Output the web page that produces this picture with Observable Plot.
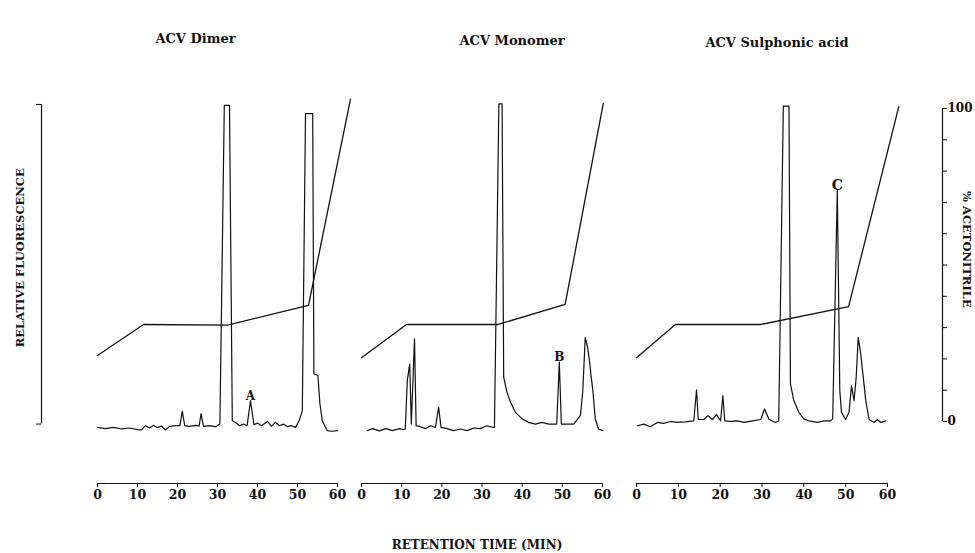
<!DOCTYPE html>
<html>
<head>
<meta charset="utf-8">
<script src="https://cdn.jsdelivr.net/npm/d3@7"></script>
<script src="https://cdn.jsdelivr.net/npm/@observablehq/plot@0.6"></script>
<style>
  html, body { margin: 0; padding: 0; background: #fff; }
  #chart { position: relative; width: 975px; height: 553px; }
  #chart svg { position: absolute; left: 0; top: 0; background: transparent; }
</style>
</head>
<body>
<div id="chart"></div>
<script>
// ---------- data ----------
const panelTitles = ["ACV Dimer", "ACV Monomer", "ACV Sulphonic acid"];
const xTicks = [0, 10, 20, 30, 40, 50, 60];
const acnTicks = [0, 10, 20, 30, 40, 50, 60, 70, 80, 90, 100];
const acnTickLabels = ["0", "", "", "", "", "", "", "", "", "", "100"];

// fluorescence traces (retention time in min, relative fluorescence 0-100 full scale)
const dimerT = [0,2,4,6,8,10,11,12,13,14,15,16,17,18,19.5,20.6,21.2,21.8,23,24.5,25.4,25.9,26.5,28,29.5,30.6,31.7,33.0,33.7,34.5,35.5,36.5,37.4,38.25,39.1,40,41,42.5,43.5,44.5,45.5,46.5,47.5,48.5,49.5,50.4,51.2,52.0,53.8,54.1,55.1,55.6,56.2,57.4,58.7,60];
const dimerF = [1,0.6,1,0.5,0.8,0.3,0.2,1.5,0.8,1.6,0.9,1.4,0.2,1.3,1.5,1.5,6,1.5,1.3,1.6,1.4,5.2,1.3,1.5,1.2,2,99.7,99.7,3,2.5,1.5,2,1.5,9.2,1.8,2.3,1.5,2.8,1.3,2.5,1.5,2,1.2,1.5,1.0,3,6,97.2,97.2,17.4,16.9,8.3,3,0,-0.2,0];

const monoT = [1.4,2.8,4.4,6.1,7.7,9.4,10.4,10.9,11.4,12.0,12.4,13.2,13.6,14.7,15.9,17.2,18.4,19.2,19.8,21.3,22.9,24.6,26.3,27.9,29.5,31.2,32.7,33.1,34.2,35.0,35.4,36.2,37.1,38.3,40.0,41.6,43.3,44.9,46.6,48.0,48.6,49.25,49.75,51.1,52.8,54.5,55.1,55.7,56.3,56.8,57.1,57.6,58.2,59.0,60.1];
const monoF = [0,0.6,-0.1,0.6,0,0.6,0.3,0.5,15.3,20.4,2,28.1,1.5,1.2,0.6,1.5,1,7.2,1,0.6,0,0.5,0,0.8,0.6,1.5,1.0,1.0,100.2,100.2,16.4,11.8,8.7,5.6,3.6,2.5,2.0,2.5,2,2,2,21,2,2,2,4.6,12.3,28.6,25.5,21,17.4,12.3,3.6,0.5,0];

const sulphT = [0.2,1.75,3.35,4.95,6.5,8.1,9.7,11.7,13.7,14.35,14.75,16.1,17.1,18.1,19.1,20.1,20.65,21.1,22.5,24.1,25.7,27.7,29.7,30.6,31.7,33.25,34.0,35.1,36.45,36.8,37.6,38.8,40.0,41.2,43.2,44.8,46.4,46.9,48.0,48.6,49.0,50.0,50.8,51.4,52.0,52.5,53.0,53.6,54.2,54.8,55.6,56.8,57.6,58.4,59.6];
const sulphF = [1.5,2,1.2,2.5,2.2,2.8,2.5,2.7,3,12.5,3.4,3.4,4.6,3.4,4.9,3,10.7,3,2.8,3,2.5,3,3.4,6.6,3.4,2.5,3,99.5,99.5,14.3,9.2,5.6,3.6,3,2.5,3,3,3.6,73.6,12.3,5.6,3.4,5.6,13.8,9.2,16,28.6,23.5,16.4,9.2,3.4,2.5,3.4,2.5,3];

// acetonitrile gradient (% acetonitrile)
const grad1T = [0, 11.5, 32.5, 52.75, 63.25];
const grad1P = [21.1, 31, 30.8, 37.1, 103];
const grad2T = [0, 11.2, 34, 50.7, 60.2];
const grad2P = [20.4, 31, 31, 37.4, 101.6];
const grad3T = [0, 9.3, 29.7, 50.7, 62.7];
const grad3P = [20.4, 31, 31, 36.7, 100.6];

// labelled peaks
const peakLabels = ["A", "B", "C"];
const peakT = [38.25, 49.25, 48.0];
const peakF = [9.2, 21, 73.6];

// ---------- helpers ----------
const zip = (T, V, k) => T.map((t, i) => ({t, [k]: V[i]}));
const traces = [zip(dimerT, dimerF, "f"), zip(monoT, monoF, "f"), zip(sulphT, sulphF, "f")];
const grads = [zip(grad1T, grad1P, "p"), zip(grad2T, grad2P, "p"), zip(grad3T, grad3P, "p")];

// secondary scale: relative fluorescence -> % acetonitrile axis units
const fl = d3.scaleLinear().domain([0, 100]).range([-2.9, 101.3]);
const Y0 = -19.8; // bottom of the y domain (x axis level)

const FONT = "'DejaVu Serif', 'Liberation Serif', serif";
const frameL = [97, 361, 636];
const frameR = [337, 602, 887];
const titleDx = [-22, 30, 15];
const titleDy = [-66, -64, -62];

const chart = document.getElementById("chart");

for (let i = 0; i < 3; i++) {
  const marks = [
    // x axis
    Plot.ruleY([Y0], {x1: 0, x2: 60, strokeWidth: 1.1}),
    Plot.axisX({ticks: xTicks, tickSize: 4, tickPadding: 3, label: null, fontWeight: "bold", fontSize: 12.5}),
    // gradient
    Plot.line(grads[i], {x: "t", y: "p", stroke: "#111", strokeWidth: 1.3}),
    // fluorescence trace
    Plot.line(traces[i], {x: "t", y: d => fl(d.f), stroke: "#111", strokeWidth: 1.2, curve: "linear"}),
    // peak label
    Plot.text([0], {x: () => peakT[i], y: () => fl(peakF[i]), text: () => peakLabels[i], lineAnchor: "bottom", dy: -1,
      fontSize: i === 2 ? 14 : 12, fontWeight: "bold", fill: "#111"}),
    // title
    Plot.text([panelTitles[i]], {frameAnchor: "top", lineAnchor: "bottom", dx: titleDx[i], dy: titleDy[i],
      fontSize: 13, fontWeight: "bold", fill: "#111"})
  ];
  if (i === 0) {
    marks.push(
      Plot.ruleX([0], {y1: fl(2), y2: fl(100), dx: -56, strokeWidth: 1.2}),
      Plot.axisY({anchor: "left", ticks: [fl(2), fl(100)], tickFormat: () => "", tickSize: 5, dx: -56, label: null}),
      Plot.text(["RELATIVE FLUORESCENCE"], {frameAnchor: "left", textAnchor: "middle", y: fl(53), dx: -77, rotate: -90,
        fontSize: 11.5, fontWeight: "bold", fill: "#111"})
    );
  }
  if (i === 1) {
    marks.push(
      Plot.text(["RETENTION TIME (MIN)"], {frameAnchor: "bottom", lineAnchor: "bottom", dx: -5, dy: 65,
        fontSize: 12, fontWeight: "bold", fill: "#111"})
    );
  }
  if (i === 2) {
    marks.push(
      Plot.ruleX([60], {y1: 0, y2: 100, dx: 55, strokeWidth: 1.2}),
      Plot.axisY({anchor: "right", ticks: acnTicks, tickFormat: (d, k) => acnTickLabels[k], tickSize: 4, tickPadding: 1,
        dx: 55, label: null, fontWeight: "bold", fontSize: 12}),
      Plot.text(["% ACETONITRILE"], {frameAnchor: "right", textAnchor: "middle", y: 55, dx: 79, rotate: 90,
        fontSize: 11.5, fontWeight: "bold", fill: "#111"})
    );
  }
  const svg = Plot.plot({
    width: 975,
    height: 553,
    marginLeft: frameL[i],
    marginRight: 975 - frameR[i],
    marginTop: 108,
    marginBottom: 70,
    x: {domain: [0, 60]},
    y: {domain: [Y0, 100], axis: i === 1 ? null : undefined},
    style: {fontFamily: FONT, fontSize: "12px", background: "transparent", color: "#111"},
    marks
  });
  chart.appendChild(svg);
}
</script>
</body>
</html>
